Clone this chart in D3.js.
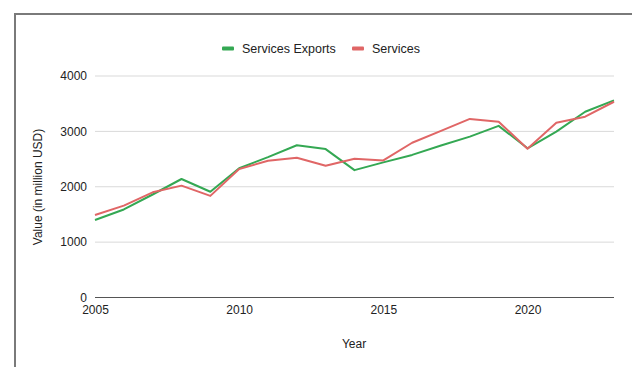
<!DOCTYPE html>
<html>
<head>
<meta charset="utf-8">
<script src="https://cdn.jsdelivr.net/npm/d3@7"></script>
<style>
  html, body { margin: 0; padding: 0; background: #fff; }
  svg { display: block; font-family: "Liberation Sans", Arial, sans-serif; }
</style>
</head>
<body>
<svg id="chart" width="632" height="367"></svg>
<script>
// Annual values, million USD
const years = [2005, 2006, 2007, 2008, 2009, 2010, 2011, 2012, 2013, 2014,
               2015, 2016, 2017, 2018, 2019, 2020, 2021, 2022, 2023];
const servicesExports = [1400, 1590, 1860, 2140, 1910, 2335, 2535, 2750, 2680, 2300,
                         2440, 2575, 2745, 2905, 3100, 2695, 2995, 3355, 3560];
const services = [1490, 1660, 1900, 2020, 1835, 2320, 2470, 2525, 2380, 2505,
                  2475, 2795, 3010, 3225, 3175, 2685, 3155, 3265, 3535];
const xTicks = [2005, 2010, 2015, 2020];
const yTicks = [0, 1000, 2000, 3000, 4000];
const seriesNames = ["Services Exports", "Services"];
const seriesColors = ["#34a853", "#e06666"];

const svg = d3.select("#chart");

// outer frame
svg.append("path")
  .attr("d", "M15,367 V14 H632")
  .attr("fill", "none")
  .attr("stroke", "#7a7a7a")
  .attr("stroke-width", 2);

const x = d3.scaleLinear().domain([2005, 2023]).range([95, 614]);
const y = d3.scaleLinear().domain([0, 4000]).range([297.5, 76]);

// gridlines
svg.append("g").selectAll("line")
  .data(yTicks.filter(d => d !== 0))
  .join("line")
  .attr("x1", x.range()[0]).attr("x2", x.range()[1])
  .attr("y1", d => y(d)).attr("y2", d => y(d))
  .attr("stroke", "#d9d9d9").attr("stroke-width", 1);

// y tick labels
const yAxis = d3.axisLeft(y).tickValues(yTicks).tickSize(0).tickPadding(8).tickFormat(d3.format("d"));
svg.append("g")
  .attr("transform", `translate(${x.range()[0]},0)`)
  .call(yAxis)
  .call(g => g.select(".domain").remove())
  .call(g => g.selectAll("text").attr("font-size", 12).attr("fill", "#222")
    .attr("font-family", "Liberation Sans, Arial, sans-serif"));

// x tick labels
const xAxis = d3.axisBottom(x).tickValues(xTicks).tickSize(0).tickPadding(8).tickFormat(d3.format("d"));
svg.append("g")
  .attr("transform", `translate(0,${y(0)})`)
  .call(xAxis)
  .call(g => g.select(".domain").remove())
  .call(g => g.selectAll("text").attr("font-size", 12).attr("fill", "#222")
    .attr("font-family", "Liberation Sans, Arial, sans-serif"));

// lines
const line = d3.line().x((d, i) => x(years[i])).y(d => y(d));
[servicesExports, services].forEach((vals, k) => {
  svg.append("path")
    .datum(vals)
    .attr("d", line)
    .attr("fill", "none")
    .attr("stroke", seriesColors[k])
    .attr("stroke-width", 2)
    .attr("stroke-linejoin", "round");
});

// baseline
svg.append("line")
  .attr("x1", x.range()[0]).attr("x2", x.range()[1])
  .attr("y1", y(0)).attr("y2", y(0))
  .attr("stroke", "#555").attr("stroke-width", 1.2);

// legend
const legendX = [222, 352];
seriesNames.forEach((name, k) => {
  const g = svg.append("g").attr("transform", `translate(${legendX[k]},48.5)`);
  g.append("rect").attr("x", 0).attr("y", -2).attr("width", 12).attr("height", 4)
    .attr("rx", 1).attr("fill", seriesColors[k]);
  g.append("text").attr("x", 20).attr("y", 0).attr("dy", "0.35em")
    .attr("font-size", 12.5).attr("fill", "#222").text(name);
});

// axis titles
svg.append("text")
  .attr("x", 354).attr("y", 348)
  .attr("text-anchor", "middle").attr("font-size", 12).attr("fill", "#222")
  .text("Year");

svg.append("text")
  .attr("transform", "translate(38,187) rotate(-90)")
  .attr("text-anchor", "middle").attr("dy", "0.35em").attr("font-size", 12).attr("fill", "#222")
  .text("Value (in million USD)");
</script>
</body>
</html>
